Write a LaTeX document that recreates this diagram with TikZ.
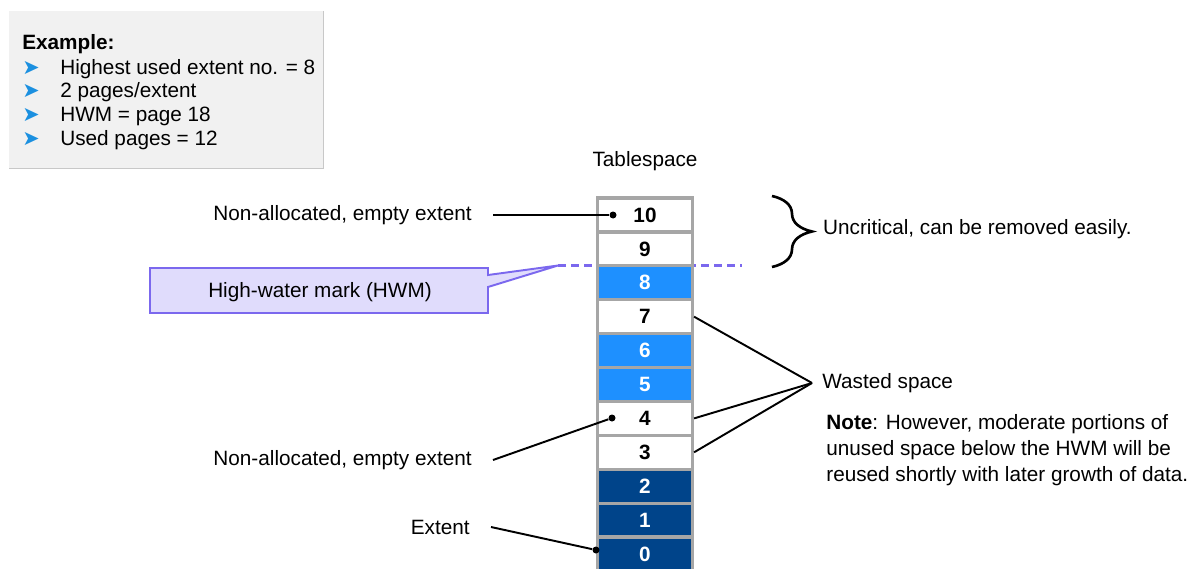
\documentclass[tikz,border=0pt]{standalone}
\usepackage{fontspec}
\setmainfont{Liberation Sans}
\newfontfamily\symfont{DejaVu Sans}
\usepackage{xcolor}
\usetikzlibrary{positioning, arrows.meta, decorations.pathreplacing}

\definecolor{usedlight}{RGB}{30,144,255}
\definecolor{useddark}{RGB}{0,68,138}
\definecolor{framegray}{RGB}{166,166,166}
\definecolor{hwmline}{RGB}{123,104,238}
\definecolor{hwmfill}{RGB}{224,220,252}
\definecolor{exfill}{RGB}{241,241,241}
\definecolor{exline}{RGB}{200,200,200}
\definecolor{bulblue}{RGB}{27,144,224}

\begin{document}
\begin{tikzpicture}[
  x=0.2mm, y=-0.2mm,
  font=\fontsize{11.8}{14}\selectfont,
  cell/.style={draw=framegray, line width=1.8pt, minimum width=19mm,
               minimum height=6.78mm, inner sep=0pt,
               font=\fontsize{11.8}{14}\selectfont\bfseries},
  free/.style={cell, fill=white},
  used/.style={cell, fill=usedlight, text=white},
  base/.style={cell, fill=useddark, text=white},
  lead/.style={line width=1.1pt},
  dot/.style={circle, fill=black, inner sep=0pt, minimum size=1.4mm},
  lbl/.style={anchor=east, inner xsep=4.2mm},
  extxt/.style={anchor=base west, inner sep=0pt},
  bul/.style={anchor=base west, inner sep=0pt, text=bulblue,
              font=\fontsize{11.8}{14}\symfont}
]
  \useasboundingbox (0,0) rectangle (1191,568);

  % --- Example box (top left) ---
  \fill[exfill] (9,11) rectangle (323,168);
  \draw[exline] (323,11) -- (323,168) -- (9,168);
  \node[extxt, font=\fontsize{11.8}{14}\selectfont\bfseries] (exhead) at (22,50) {Example:};
  \node[bul]   (b1) at (22,74)  {➤};
  \node[extxt] (e1) at (60,74)  {Highest used extent no. = 8};
  \node[bul]   (b2) at (22,98)  {➤};
  \node[extxt] (e2) at (60,98)  {2 pages/extent};
  \node[bul]   (b3) at (22,122) {➤};
  \node[extxt] (e3) at (60,122) {HWM = page 18};
  \node[bul]   (b4) at (22,146) {➤};
  \node[extxt] (e4) at (60,146) {Used pages = 12};

  % --- High-water mark (drawn first, the column covers it) ---
  \draw[hwmline, line width=1.7pt, dash pattern=on 1.6mm off 1mm]
    (558,265.5) -- (742,265.5);
  \draw[hwmline, fill=hwmfill, line width=1.1pt]
    (150,268) -- (488,268) -- (488,275) -- (558,265.5) -- (488,287)
    -- (488,313) -- (150,313) -- cycle;
  \node (hwm) at (320,292) {High-water mark (HWM)};

  % --- Tablespace column ---
  \node (ts) at (645,161) {Tablespace};
  \node[free] (c10) at (645,215)   {10};
  \node[free] (c9)  at (645,248.9) {9};
  \node[used] (c8)  at (645,282.8) {8};
  \node[free] (c7)  at (645,316.7) {7};
  \node[used] (c6)  at (645,350.6) {6};
  \node[used] (c5)  at (645,384.5) {5};
  \node[free] (c4)  at (645,418.4) {4};
  \node[free] (c3)  at (645,452.3) {3};
  \node[base] (c2)  at (645,486.2) {2};
  \node[base] (c1)  at (645,520.1) {1};
  \node[base] (c0)  at (645,554)   {0};

  % --- Labels on the left ---
  \node[dot] (d10) at (613,215) {};
  \node[dot] (d4)  at (612,418) {};
  \node[dot] (d0)  at (596,550) {};
  \node[lbl] (na1) at (493,215) {Non-allocated, empty extent};
  \node[lbl] (na2) at (493,460) {Non-allocated, empty extent};
  \node[lbl] (ext) at (491,527) {Extent};
  \draw[lead] (na1.east) -- (d10);
  \draw[lead] (na2.east) -- (d4);
  \draw[lead] (ext.east) -- (d0);

  % --- Labels on the right ---
  \draw[decorate, decoration={brace, amplitude=8mm}, line width=1.5pt]
    (772,196) -- (772,267);
  \node[anchor=west] (unc) at (817,229) {Uncritical, can be removed easily.};

  \node[anchor=west, inner xsep=2mm] (waste) at (812,383) {Wasted space};
  \draw[lead] (c7.east) -- (waste.west);
  \draw[lead] (c4.east) -- (waste.west);
  \draw[lead] (c3.east) -- (waste.west);

  \node[anchor=north west, inner sep=0pt, align=left,
        font=\fontsize{11.8}{14.8}\selectfont] (note) at (826,414)
    {\textbf{Note}: However, moderate portions of\\
     unused space below the HWM will be\\
     reused shortly with later growth of data.};
\end{tikzpicture}
\end{document}
